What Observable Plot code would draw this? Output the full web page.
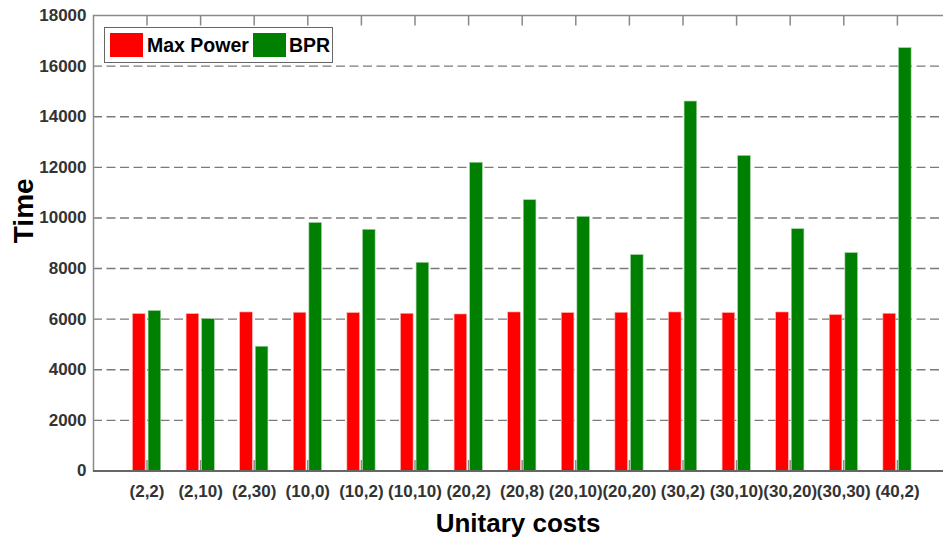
<!DOCTYPE html>
<html>
<head>
<meta charset="utf-8">
<script src="https://cdn.jsdelivr.net/npm/d3@7"></script>
<script src="https://cdn.jsdelivr.net/npm/@observablehq/plot@0.6"></script>
<style>
  html, body { margin: 0; padding: 0; background: white; overflow: hidden; }
  #wrap { position: relative; width: 943px; height: 543px; }
  #legend {
    position: absolute; left: 104px; top: 27px; width: 227px; height: 34px;
    border: 1.5px solid #666; background: white; box-sizing: content-box;
    font-family: "Liberation Sans", Arial, sans-serif; font-weight: bold; font-size: 19.5px; color: #000;
  }
  .sw { position: absolute; top: 5px; width: 33px; height: 24px; }
  .lt { position: absolute; top: 5px; line-height: 24px; white-space: nowrap; }
</style>
</head>
<body>
<div id="wrap"></div>
<script>
const categories = ["(2,2)", "(2,10)", "(2,30)", "(10,0)", "(10,2)", "(10,10)", "(20,2)", "(20,8)",
  "(20,10)", "(20,20)", "(30,2)", "(30,10)", "(30,20)", "(30,30)", "(40,2)"];
const maxPower = [6200, 6200, 6265, 6253, 6241, 6213, 6186, 6265, 6241, 6253, 6265, 6241, 6265, 6162, 6213];
const bpr = [6320, 6000, 4910, 9800, 9530, 8225, 12180, 10700, 10040, 8530, 14600, 12450, 9555, 8610, 16710];
const seriesNames = ["Max Power", "BPR"];
const seriesColors = ["#ff0000", "#008000"];
const yTicks = [0, 2000, 4000, 6000, 8000, 10000, 12000, 14000, 16000, 18000];
const gridTicks = [2000, 4000, 6000, 8000, 10000, 12000, 14000, 16000];

const redData = categories.map((c, i) => ({cat: c, v: maxPower[i]}));
const greenData = categories.map((c, i) => ({cat: c, v: bpr[i]}));

const chart = Plot.plot({
  width: 943,
  height: 543,
  marginLeft: 93,
  marginRight: -8,
  marginTop: 15,
  marginBottom: 72.5,
  style: {fontFamily: "'Liberation Sans', Arial, sans-serif", fontWeight: "bold", fontSize: "17px", color: "#333", background: "white"},
  x: {type: "band", domain: categories, range: [119.7, 923.7], padding: 0, round: false},
  y: {domain: [0, 18000]},
  marks: [
    Plot.ruleY(gridTicks, {stroke: "#7a7a7a", strokeWidth: 1.4, strokeDasharray: "9,4.5"}),
    Plot.ruleX(categories, {x: d => d, stroke: "#888", strokeWidth: 1.5, insetBottom: 445}),
    Plot.ruleX(categories, {x: d => d, stroke: "#888", strokeWidth: 1.5, insetTop: 445}),
    Plot.barY(redData, {x: "cat", y: "v", fill: seriesColors[0], stroke: "#ffb0b0", strokeWidth: 0.6, insetLeft: 12.8, insetRight: 28.2}),
    Plot.barY(greenData, {x: "cat", y: "v", fill: seriesColors[1], stroke: "#a0d0a0", strokeWidth: 0.6, insetLeft: 28.4, insetRight: 12.6}),
    Plot.frame({stroke: "#8a8a8a", strokeWidth: 1.5}),
    Plot.ruleY([0], {stroke: "#666", strokeWidth: 2}),
    Plot.axisY({ticks: yTicks, tickSize: 0, tickPadding: 7, tickFormat: d => String(d), fontSize: 17, fontWeight: "bold", label: null}),
    Plot.axisX({tickSize: 0, tickPadding: 14, fontSize: 17, fontWeight: "bold", label: null}),
    Plot.text(["Time"], {frameAnchor: "left", rotate: -90, dx: -61, lineAnchor: "bottom", fontSize: 28, fontWeight: "bold", fill: "#000"}),
    Plot.text(["Unitary costs"], {frameAnchor: "bottom", dx: -4.5, dy: 60.5, lineAnchor: "bottom", fontSize: 26, fontWeight: "bold", fill: "#000"})
  ]
});

const wrap = document.getElementById("wrap");
wrap.appendChild(chart);

const legend = document.createElement("div");
legend.id = "legend";
const items = [
  {name: seriesNames[0], color: seriesColors[0], sx: 5, tx: 42},
  {name: seriesNames[1], color: seriesColors[1], sx: 148, tx: 184}
];
for (const it of items) {
  const sw = document.createElement("div");
  sw.className = "sw"; sw.style.left = it.sx + "px"; sw.style.background = it.color;
  const t = document.createElement("div");
  t.className = "lt"; t.style.left = it.tx + "px"; t.textContent = it.name;
  legend.appendChild(sw); legend.appendChild(t);
}
wrap.appendChild(legend);
</script>
</body>
</html>
